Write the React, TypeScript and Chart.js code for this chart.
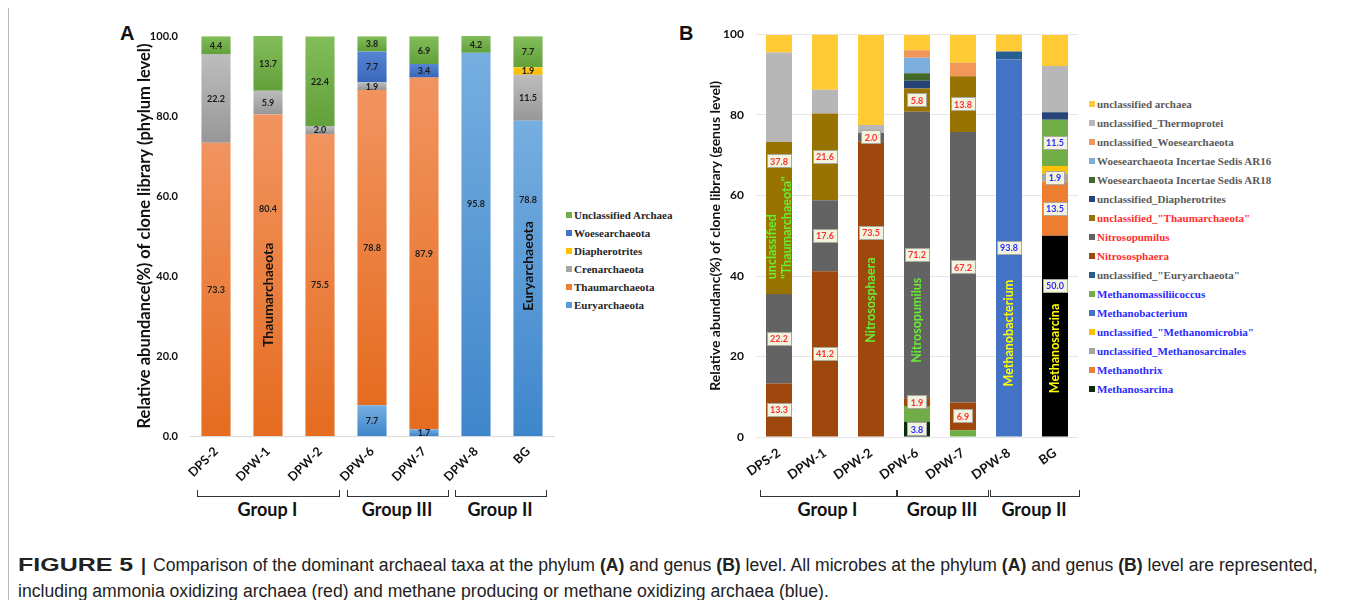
import React, { useEffect, useRef } from "react";
import { Chart, registerables } from "chart.js";
Chart.register(...registerables);

// ---------------- DATA ----------------
const categories = ["DPS-2", "DPW-1", "DPW-2", "DPW-6", "DPW-7", "DPW-8", "BG"];
const groupNames = ["Group I", "Group III", "Group II"];

// Panel A (phylum level), bottom -> top
const euryarchaeota = [0, 0, 0, 7.7, 1.7, 95.8, 78.8];
const thaumarchaeota = [73.3, 80.4, 75.5, 78.8, 87.9, 0, 0];
const crenarchaeota = [22.2, 5.9, 2.0, 1.9, 0, 0, 11.5];
const diapherotrites = [0, 0, 0, 0, 0, 0, 1.9];
const woesearchaeota = [0, 0, 0, 7.7, 3.4, 0, 0];
const unclassifiedArchaeaA = [4.4, 13.7, 22.4, 3.8, 6.9, 4.2, 7.7];
const yTicksA = [0, 20, 40, 60, 80, 100];

// Panel B (genus level), bottom -> top
const methanosarcina = [0, 0, 0, 3.8, 0, 0, 50.0];
const methanothrix = [0, 0, 0, 0, 0, 0, 13.5];
const uMethanosarcinales = [0, 0, 0, 0, 0, 0, 1.9];
const uMethanomicrobia = [0, 0, 0, 0, 0, 0, 1.9];
const methanobacterium = [0, 0, 0, 0, 0, 93.8, 0];
const methanomassiliicoccus = [0, 0, 0, 3.9, 1.7, 0, 11.5];
const uEuryarchaeota = [0, 0, 0, 0, 0, 2.0, 0];
const nitrososphaera = [13.3, 41.2, 73.5, 1.9, 6.9, 0, 0];
const nitrosopumilus = [22.2, 17.6, 2.0, 71.2, 67.2, 0, 0];
const uThaumarchaeota = [37.8, 21.6, 0, 5.8, 13.8, 0, 0];
const uDiapherotrites = [0, 0, 0, 1.9, 0, 0, 1.9];
const woeseAR18 = [0, 0, 0, 1.9, 0, 0, 0];
const woeseAR16 = [0, 0, 0, 3.8, 0, 0, 0];
const uWoesearchaeota = [0, 0, 0, 1.9, 3.4, 0, 0];
const uThermoprotei = [22.2, 5.9, 2.0, 0, 0, 0, 11.5];
const unclassifiedArchaeaB = [4.4, 13.7, 22.4, 3.8, 6.9, 4.2, 7.7];
const yTicksB = [0, 20, 40, 60, 80, 100];

// ---------------- STYLE / ANNOTATION TABLES ----------------
const seriesA = [
  { name: "Euryarchaeota", values: euryarchaeota, color: "#5B9BD5", light: "#76AEE0", dark: "#3E86CB" },
  { name: "Thaumarchaeota", values: thaumarchaeota, color: "#ED7D31", light: "#F29460", dark: "#E56C20" },
  { name: "Crenarchaeota", values: crenarchaeota, color: "#A5A5A5", light: "#BDBDBD", dark: "#979797" },
  { name: "Diapherotrites", values: diapherotrites, color: "#FFC000", light: "#FFC81F", dark: "#F7B800" },
  { name: "Woesearchaeota", values: woesearchaeota, color: "#4472C4", light: "#5585D3", dark: "#3A66BB" },
  { name: "Unclassified Archaea", values: unclassifiedArchaeaA, color: "#70AD47", light: "#82BD5A", dark: "#62A03A" },
];

const RED = "#FF2E2E";
const BLUE = "#2B2BFF";
const GREY_T = "#5A5A5A";

const seriesB = [
  { name: "Methanosarcina", values: methanosarcina, color: ["#0B2B0B", "#0B2B0B", "#0B2B0B", "#0B2B0B", "#0B2B0B", "#0B2B0B", "#000000"], legendColor: "#0B2B0B", text: BLUE, label: BLUE },
  { name: "Methanothrix", values: methanothrix, color: "#ED7D31", text: BLUE, label: BLUE },
  { name: "unclassified_Methanosarcinales", values: uMethanosarcinales, color: "#A5A5A5", text: BLUE, label: BLUE },
  { name: 'unclassified_"Methanomicrobia"', values: uMethanomicrobia, color: "#FFC000", text: BLUE, label: null },
  { name: "Methanobacterium", values: methanobacterium, color: "#4472C4", text: BLUE, label: BLUE },
  { name: "Methanomassiliicoccus", values: methanomassiliicoccus, color: "#70AD47", text: BLUE, label: BLUE },
  { name: 'unclassified_"Euryarchaeota"', values: uEuryarchaeota, color: "#255E91", text: GREY_T, label: null },
  { name: "Nitrososphaera", values: nitrososphaera, color: "#9E480E", text: RED, label: RED },
  { name: "Nitrosopumilus", values: nitrosopumilus, color: "#636363", text: RED, label: RED },
  { name: 'unclassified_"Thaumarchaeota"', values: uThaumarchaeota, color: "#997300", text: RED, label: RED },
  { name: "unclassified_Diapherotrites", values: uDiapherotrites, color: "#264478", text: GREY_T, label: null },
  { name: "Woesearchaeota Incertae Sedis AR18", values: woeseAR18, color: "#43682B", text: GREY_T, label: null },
  { name: "Woesearchaeota Incertae Sedis AR16", values: woeseAR16, color: "#7CAFDD", text: GREY_T, label: null },
  { name: "unclassified_Woesearchaeota", values: uWoesearchaeota, color: "#F1975A", text: GREY_T, label: null },
  { name: "unclassified_Thermoprotei", values: uThermoprotei, color: "#B7B7B7", text: GREY_T, label: null },
  { name: "unclassified archaea", values: unclassifiedArchaeaB, color: "#FFCA33", text: GREY_T, label: null },
];
const unlabelledB = ["Methanomassiliicoccus|DPW-6", "Methanomassiliicoccus|DPW-7"];

// where a value label is not at the segment centre (value units)
const labelAtA: Record<string, number> = {
  "Thaumarchaeota|DPW-1": 56.8,
  "Euryarchaeota|DPW-8": 58,
  "Euryarchaeota|BG": 59,
};
const labelAtB: Record<string, number> = {
  'unclassified_"Thaumarchaeota"|DPS-2': 68.5,
  "Nitrososphaera|DPW-2": 50.8,
  "Methanosarcina|BG": 37.5,
};

const rotatedA = [
  { cat: "DPW-1", lines: ["Thaumarchaeota"], at: 35.3, color: "#111", font: "bold 14px Lato", align: "center", dx: [0] },
  { cat: "BG", lines: ["Euryarchaeota"], at: 42.5, color: "#111", font: "bold 14px Lato", align: "center", dx: [0] },
];
const rotatedB = [
  { cat: "DPS-2", lines: ["unclassified", '"Thaumarchaeota"'], at: 39.2, color: "#66EE33", font: "bold 12.5px Lato", align: "left", dx: [-7, 8] },
  { cat: "DPW-2", lines: ["Nitrososphaera"], at: 34, color: "#66EE33", font: "bold 12.5px Lato", align: "center", dx: [0] },
  { cat: "DPW-6", lines: ["Nitrosopumilus"], at: 29, color: "#66EE33", font: "bold 12.5px Lato", align: "center", dx: [0] },
  { cat: "DPW-8", lines: ["Methanobacterium"], at: 25.8, color: "#FFFF00", font: "bold 12.5px Lato", align: "center", dx: [0] },
  { cat: "BG", lines: ["Methanosarcina"], at: 22, color: "#FFFF00", font: "bold 12.5px Lato", align: "center", dx: [0] },
];

// ---------------- PLUGINS ----------------
function drawRotated(chart: any, list: any[]) {
  const { ctx } = chart;
  const xs = chart.scales.x;
  const ys = chart.scales.y;
  list.forEach((r) => {
    ctx.save();
    ctx.translate(xs.getPixelForValue(categories.indexOf(r.cat)), ys.getPixelForValue(r.at));
    ctx.rotate(-Math.PI / 2);
    ctx.font = r.font;
    ctx.fillStyle = r.color;
    ctx.textAlign = r.align;
    ctx.textBaseline = "middle";
    r.lines.forEach((t: string, k: number) => ctx.fillText(t, 0, r.dx[k]));
    ctx.restore();
  });
}

const gradientPlugin = {
  id: "segGradient",
  beforeDatasetsDraw(chart: any) {
    const ctx = chart.ctx;
    chart.data.datasets.forEach((ds: any, di: number) => {
      const meta = chart.getDatasetMeta(di);
      const s = seriesA[di];
      meta.data.forEach((el: any) => {
        const top = Math.min(el.y, el.base);
        const bot = Math.max(el.y, el.base);
        if (bot - top < 0.5) return;
        const g = ctx.createLinearGradient(0, top, 0, bot);
        g.addColorStop(0, s.light);
        g.addColorStop(1, s.dark);
        el.options = Object.assign({}, el.options, { backgroundColor: g });
      });
    });
  },
};

const labelsPluginA = {
  id: "labelsA",
  afterDatasetsDraw(chart: any) {
    const { ctx } = chart;
    const ys = chart.scales.y;
    ctx.save();
    ctx.font = "bold 9px Lato";
    ctx.fillStyle = "#1b1b1b";
    ctx.textAlign = "center";
    ctx.textBaseline = "middle";
    chart.data.datasets.forEach((ds: any, di: number) => {
      const meta = chart.getDatasetMeta(di);
      ds.data.forEach((v: number, i: number) => {
        if (!v) return;
        const el = meta.data[i];
        const key = ds.label + "|" + categories[i];
        const py = labelAtA[key] != null ? ys.getPixelForValue(labelAtA[key]) : (el.y + el.base) / 2;
        ctx.fillText(v.toFixed(1), el.x, py + 0.5);
      });
    });
    ctx.restore();
    drawRotated(chart, rotatedA);
  },
};

const labelsPluginB = {
  id: "labelsB",
  afterDatasetsDraw(chart: any) {
    const { ctx } = chart;
    const ys = chart.scales.y;
    drawRotated(chart, rotatedB);
    ctx.save();
    ctx.font = "bold 9px Lato";
    ctx.textAlign = "center";
    ctx.textBaseline = "middle";
    chart.data.datasets.forEach((ds: any, di: number) => {
      const s = seriesB[di];
      if (!s.label) return;
      const meta = chart.getDatasetMeta(di);
      ds.data.forEach((v: number, i: number) => {
        if (!v) return;
        const key = ds.label + "|" + categories[i];
        if (unlabelledB.includes(key)) return;
        const el = meta.data[i];
        const py = labelAtB[key] != null ? ys.getPixelForValue(labelAtB[key]) : (el.y + el.base) / 2;
        const txt = v.toFixed(1);
        const w = ctx.measureText(txt).width + 7;
        const h = 14;
        ctx.fillStyle = "#F1F3DF";
        ctx.fillRect(Math.round(el.x - w / 2), Math.round(py - h / 2), Math.round(w), h);
        ctx.strokeStyle = "#A8A8A0";
        ctx.lineWidth = 1;
        ctx.strokeRect(Math.round(el.x - w / 2) + 0.5, Math.round(py - h / 2) + 0.5, Math.round(w) - 1, h - 1);
        ctx.fillStyle = s.label;
        ctx.fillText(txt, el.x, py + 0.5);
      });
    });
    ctx.restore();
  },
};

// ---------------- CONFIGS ----------------
function configA(): any {
  return {
    type: "bar",
    data: {
      labels: categories,
      datasets: seriesA.map((s) => ({
        label: s.name,
        data: s.values,
        backgroundColor: s.color,
        borderWidth: 0,
        barPercentage: 0.56,
        categoryPercentage: 1,
      })),
    },
    options: {
      responsive: false,
      animation: false,
      devicePixelRatio: 1,
      layout: { padding: { left: 0, top: 16, right: 6, bottom: 0 } },
      plugins: { legend: { display: false }, tooltip: { enabled: false } },
      scales: {
        x: {
          stacked: true,
          grid: { display: false, drawTicks: false },
          border: { display: true, color: "#D9D9D9", width: 1 },
          ticks: { autoSkip: false, minRotation: 45, maxRotation: 45, padding: 8, color: "#111", font: { family: "Lato", weight: "bold", size: 12.5 } },
          afterFit: (s: any) => { s.height = 54; s.paddingLeft = 0; s.paddingRight = 0; },
        },
        y: {
          stacked: true,
          min: 0,
          max: 100,
          afterBuildTicks: (s: any) => { s.ticks = yTicksA.map((v) => ({ value: v })); },
          grid: { display: false, drawTicks: false },
          border: { display: false },
          ticks: { padding: 12, color: "#111", font: { family: "Lato", weight: "bold", size: 11 }, callback: (v: any) => Number(v).toFixed(1) },
          title: { display: true, text: "Relative abundance(%) of clone library (phylum level)", color: "#111", font: { family: "Lato", weight: "bold", size: 16.5 }, padding: { top: 25, bottom: 0 } },
          afterFit: (s: any) => { s.width = 80; s.paddingTop = 0; s.paddingBottom = 0; },
        },
      },
    },
    plugins: [gradientPlugin, labelsPluginA],
  };
}

function configB(): any {
  return {
    type: "bar",
    data: {
      labels: categories,
      datasets: seriesB.map((s) => ({
        label: s.name,
        data: s.values,
        backgroundColor: s.color,
        borderWidth: 0,
        barPercentage: 0.565,
        categoryPercentage: 1,
      })),
    },
    options: {
      responsive: false,
      animation: false,
      devicePixelRatio: 1,
      layout: { padding: { left: 0, top: 14.5, right: 7, bottom: 0 } },
      plugins: { legend: { display: false }, tooltip: { enabled: false } },
      scales: {
        x: {
          stacked: true,
          grid: { display: false, drawTicks: false },
          border: { display: false },
          ticks: { autoSkip: false, minRotation: 35, maxRotation: 35, padding: 8, color: "#111", font: { family: "Lato", weight: "bold", size: 13 } },
          afterFit: (s: any) => { s.height = 53; s.paddingLeft = 0; s.paddingRight = 0; },
        },
        y: {
          stacked: true,
          min: 0,
          max: 100,
          afterBuildTicks: (s: any) => { s.ticks = yTicksB.map((v) => ({ value: v })); },
          grid: { display: true, drawTicks: false, color: "#E6E6E6", lineWidth: 1 },
          border: { display: false },
          ticks: { padding: 12, color: "#111", font: { family: "Lato", weight: "bold", size: 12 }, callback: (v: any) => String(v) },
          title: { display: true, text: "Relative abundanc(%) of clone library (genus level)", color: "#111", font: { family: "Lato", weight: "bold", size: 14 }, padding: { top: 26.6, bottom: 0 } },
          afterFit: (s: any) => { s.width = 76; s.paddingTop = 0; s.paddingBottom = 0; },
        },
      },
    },
    plugins: [labelsPluginB],
  };
}

// ---------------- COMPONENTS ----------------
const P = (x: number, y: number) => ({ position: "absolute" as const, left: x - 8, top: y - 8 });

function ChartCanvas({ make, x, y, w, h }: any) {
  const ref = useRef<HTMLCanvasElement>(null);
  useEffect(() => {
    const chart = new Chart(ref.current as HTMLCanvasElement, make());
    return () => chart.destroy();
  }, []);
  return <canvas ref={ref} width={w} height={h} style={{ ...P(x, y), width: w, height: h }} />;
}

function Bracket({ x1, x2, label }: any) {
  return (
    <>
      <div style={{ ...P(x1, 490), width: x2 - x1, height: 6, borderLeft: "1.5px solid #333", borderRight: "1.5px solid #333", borderBottom: "1.5px solid #333" }} />
      <div style={{ ...P(x1, 497), width: x2 - x1, textAlign: "center", font: "bold 18px Lato", color: "#111", lineHeight: "24px" }}>{label}</div>
    </>
  );
}

export default function App() {
  const legendA = [...seriesA].reverse();
  const legendB = [...seriesB].reverse();
  return (
    <div style={{ position: "relative", width: 1344, height: 592, fontFamily: "Lato", background: "#fff" }}>
      <div style={{ ...P(8, 0), width: 1345, height: 603, borderLeft: "1px solid #B8B8B8", borderRight: "1px solid #B8B8B8", borderBottom: "1px solid #B8B8B8", boxSizing: "border-box" }} />
      <div style={{ ...P(120, 22), font: "bold 20px 'Liberation Sans', Arial", color: "#111" }}>A</div>
      <div style={{ ...P(679, 22), font: "bold 20px 'Liberation Sans', Arial", color: "#111" }}>B</div>

      <ChartCanvas make={configA} x={110} y={20} w={450} h={470} />
      <ChartCanvas make={configB} x={680} y={20} w={405} h={470} />

      {legendA.map((s, k) => (
        <div key={s.name} style={{ ...P(566, 208 + k * 18), height: 14, display: "flex", alignItems: "center", whiteSpace: "nowrap" }}>
          <span style={{ display: "inline-block", width: 6, height: 6, background: s.color, marginRight: 2 }} />
          <span style={{ font: "bold 11px 'Liberation Serif', 'Times New Roman', serif", color: "#262626" }}>{s.name}</span>
        </div>
      ))}

      {legendB.map((s, k) => (
        <div key={s.name} style={{ ...P(1089, 97 + k * 19), height: 14, display: "flex", alignItems: "center", whiteSpace: "nowrap" }}>
          <span style={{ display: "inline-block", width: 6, height: 6, background: (s as any).legendColor || s.color, marginRight: 2 }} />
          <span style={{ font: "bold 11px 'Liberation Serif', 'Times New Roman', serif", color: s.text }}>{s.name}</span>
        </div>
      ))}

      <Bracket x1={197} x2={338} label={groupNames[0]} />
      <Bracket x1={347} x2={447} label={groupNames[1]} />
      <Bracket x1={455} x2={545} label={groupNames[2]} />
      <Bracket x1={760} x2={895} label={groupNames[0]} />
      <Bracket x1={897} x2={987} label={groupNames[1]} />
      <Bracket x1={990} x2={1078} label={groupNames[2]} />

      <div style={{ ...P(18, 552), font: "17.6px 'Liberation Sans', Arial, sans-serif", lineHeight: "26px", whiteSpace: "nowrap", color: "#222" }}>
        <span style={{ display: "inline-block", width: 121, verticalAlign: "top" }}>
          <b style={{ display: "inline-block", transform: "scaleX(1.42)", transformOrigin: "left center" }}>FIGURE 5</b>
        </span>
        <b style={{ margin: "0 7px 0 2px" }}>|</b>Comparison of the dominant archaeal taxa at the phylum <b>(A)</b> and genus <b>(B)</b> level. All microbes at the phylum <b>(A)</b> and genus <b>(B)</b> level are represented,
        <br />
        including ammonia oxidizing archaea (red) and methane producing or methane oxidizing archaea (blue).
      </div>
    </div>
  );
}
